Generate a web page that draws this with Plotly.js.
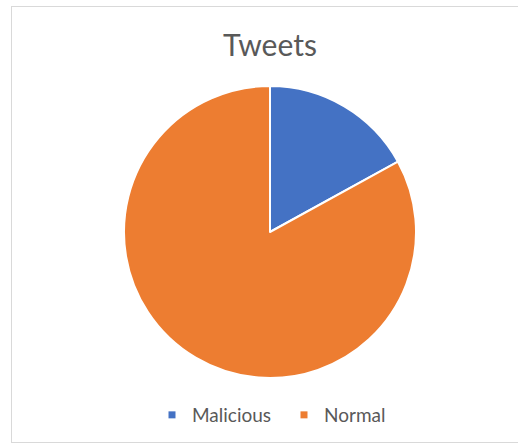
<!DOCTYPE html>
<html>
<head>
<meta charset="utf-8">
<script src="https://cdn.plot.ly/plotly-3.0.1.min.js"></script>
<style>
  html, body { margin: 0; padding: 0; background: #ffffff; }
  #wrap { position: relative; width: 518px; height: 446px; overflow: hidden; }
  #frame { position: absolute; left: 11px; top: 6px; width: 520px; height: 437px;
           border: 1px solid #d9d9d9; box-sizing: border-box; pointer-events: none; }
  #chart { position: absolute; left: 0; top: 0; width: 518px; height: 446px; }
</style>
</head>
<body>
<div id="wrap">
  <div id="chart"></div>
  <div id="frame"></div>
</div>
<script>
const categories = ["Malicious", "Normal"];
const values = [17, 83];
const colors = ["#4472C4", "#ED7D31"];
const chartTitle = "Tweets";

const W = 518, H = 446;
const cx = 270, cy = 232, r = 146;

const trace = {
  type: "pie",
  labels: categories,
  values: values,
  sort: false,
  direction: "clockwise",
  rotation: 0,
  textinfo: "none",
  hoverinfo: "label+value",
  marker: { colors: colors, line: { color: "#ffffff", width: 2 } },
  domain: {
    x: [(cx - r) / W, (cx + r) / W],
    y: [(H - cy - r) / H, (H - cy + r) / H]
  }
};

const layout = {
  width: W,
  height: H,
  margin: { l: 0, r: 0, t: 0, b: 0 },
  paper_bgcolor: "#ffffff",
  plot_bgcolor: "#ffffff",
  font: { family: "Lato, 'Open Sans', sans-serif", color: "#595959" },
  title: {
    text: chartTitle,
    x: 270 / W,
    xanchor: "center",
    y: 1 - 45 / H,
    yanchor: "middle",
    font: { size: 30, color: "#595959", family: "Lato, 'Open Sans', sans-serif" }
  },
  showlegend: true,
  legend: {
    orientation: "h",
    x: 152 / W,
    xanchor: "left",
    y: (H - 415) / H,
    yanchor: "middle",
    entrywidth: 87,
    entrywidthmode: "pixels",
    font: { size: 19, color: "#595959" },
    bgcolor: "rgba(0,0,0,0)",
    itemclick: false
  }
};

Plotly.newPlot("chart", [trace], layout, { displayModeBar: false, staticPlot: true }).then(function () {
  document.querySelectorAll("#chart .legendpoints path").forEach(function (p) {
    p.setAttribute("d", "M3.5,3.5H-3.5V-3.5H3.5Z");
    p.style.strokeWidth = "0px";
  });
});
</script>
</body>
</html>
